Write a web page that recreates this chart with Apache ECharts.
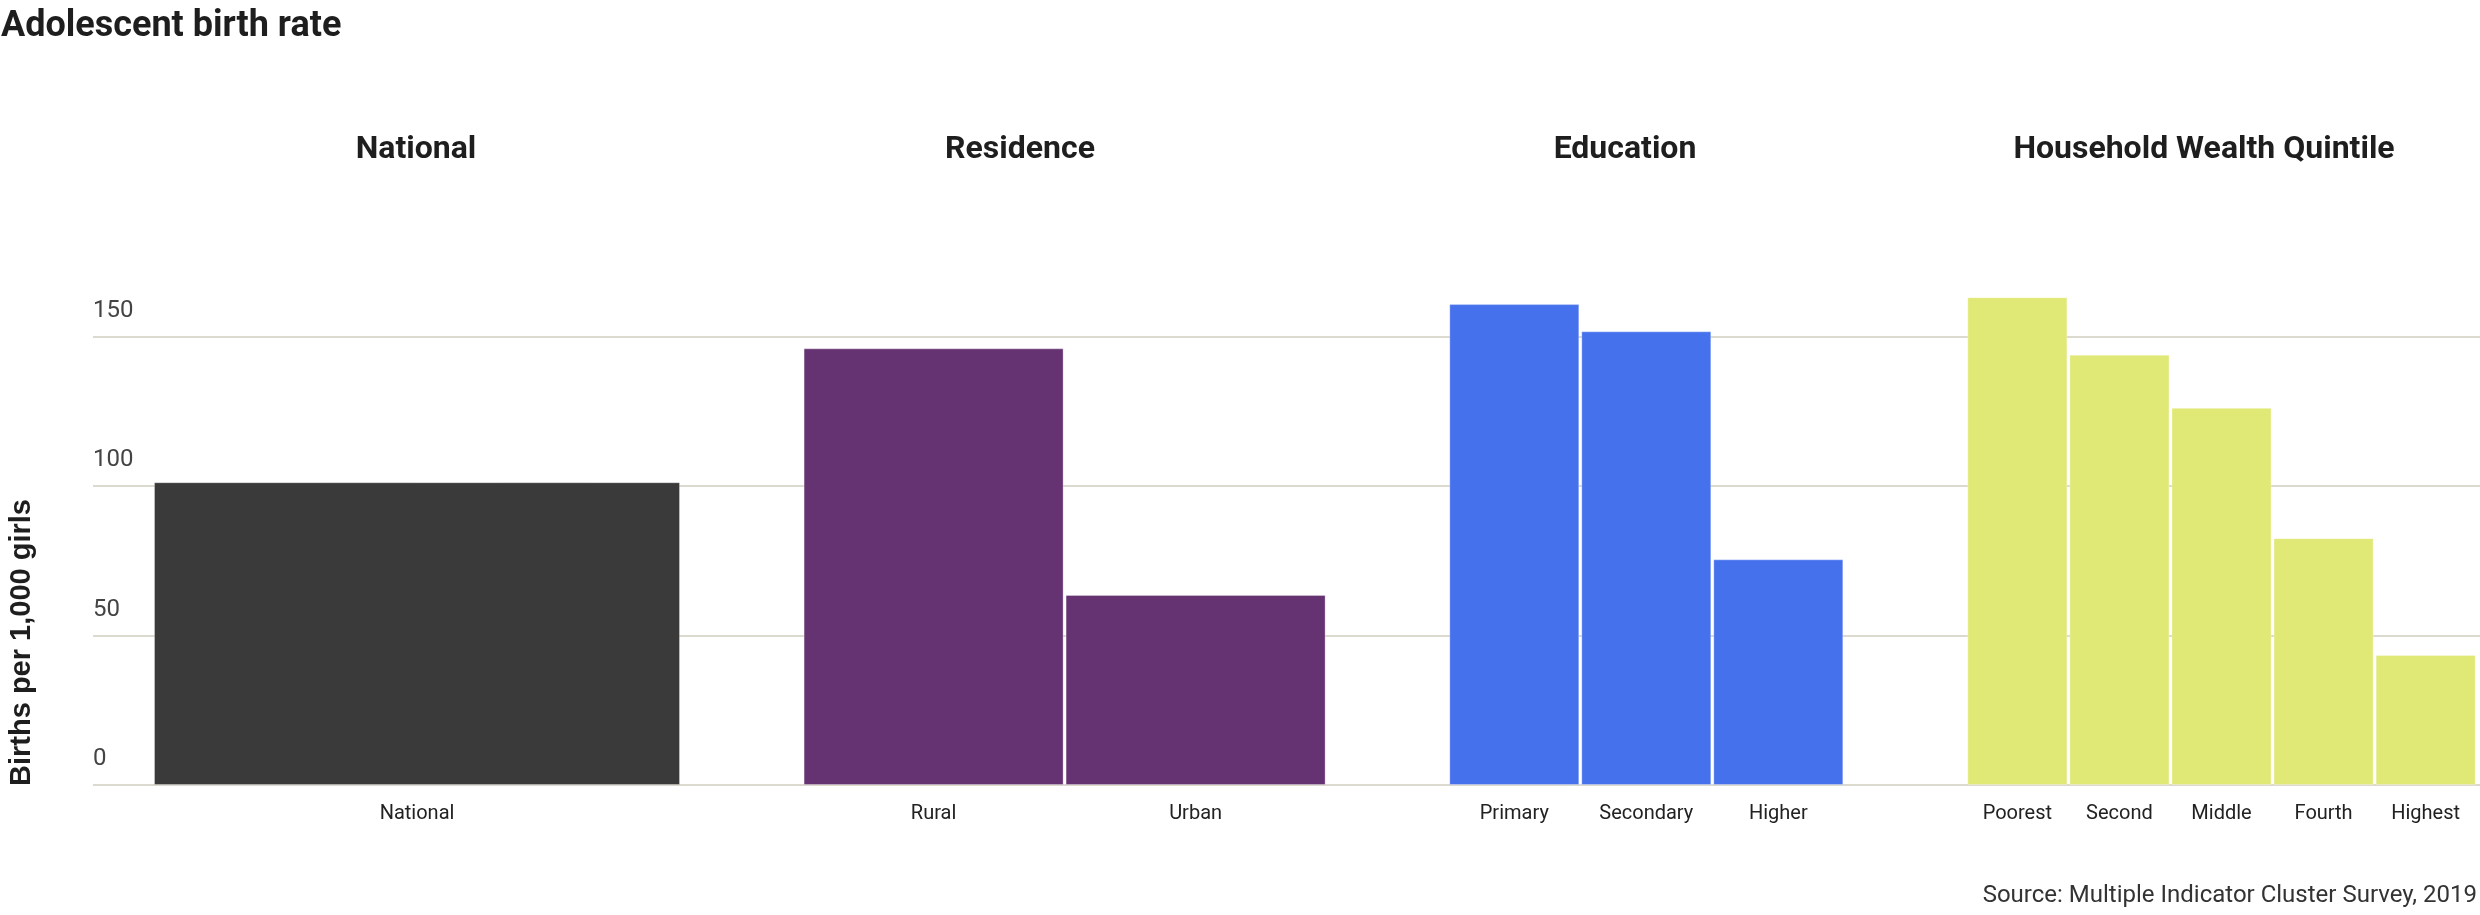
<!DOCTYPE html>
<html>
<head>
<meta charset="utf-8">
<script src="https://cdn.jsdelivr.net/npm/echarts@6/dist/echarts.min.js"></script>
<style>
html,body{margin:0;padding:0;background:#fff;}
#chart{width:2480px;height:915px;}
</style>
</head>
<body>
<div id="chart"></div>
<script>
// ---- data ----
const chartTitle = 'Adolescent birth rate';
const yAxisTitle = 'Births per 1,000 girls';
const sourceText = 'Source: Multiple Indicator Cluster Survey, 2019';
const groupTitles = ['National', 'Residence', 'Education', 'Household Wealth Quintile'];
const nationalCats = ['National'];
const nationalVals = [101.3];
const residenceCats = ['Rural', 'Urban'];
const residenceVals = [146.1, 63.6];
const educationCats = ['Primary', 'Secondary', 'Higher'];
const educationVals = [160.9, 151.8, 75.5];
const wealthCats = ['Poorest', 'Second', 'Middle', 'Fourth', 'Highest'];
const wealthVals = [163.2, 144.0, 126.2, 82.6, 43.5];
const yMin = 0, yMax = 150, yStep = 50;

// ---- layout / style ----
const groups = [
  {cats: nationalCats, vals: nationalVals, color: '#3a3a3a', left: 153, width: 528, titleX: 416},
  {cats: residenceCats, vals: residenceVals, color: '#653371', left: 802.6, width: 524, titleX: 1020},
  {cats: educationCats, vals: educationVals, color: '#4671ed', left: 1448.3, width: 396, titleX: 1625},
  {cats: wealthCats, vals: wealthVals, color: '#e0e976', left: 1966.3, width: 510.4, titleX: 2204}
];
const plotTop = 336.7, plotBottom = 130;
const font = 'Roboto';

const grid = [{left: 93, right: 0, top: plotTop, bottom: plotBottom}];
const xAxis = [{type: 'value', gridIndex: 0, show: false}];
const yAxis = [{
  type: 'value', gridIndex: 0, min: yMin, max: yMax, interval: yStep,
  axisLine: {show: false}, axisTick: {show: false},
  axisLabel: {inside: true, margin: 0, align: 'left', verticalAlign: 'bottom',
    lineHeight: 52, fontFamily: font, fontSize: 24, color: '#444'},
  splitLine: {show: true, lineStyle: {color: '#dcd9cf', width: 2}}
}];
const series = [];
groups.forEach((g, i) => {
  const gi = i + 1;
  grid.push({left: g.left, width: g.width, top: plotTop, bottom: plotBottom});
  xAxis.push({type: 'category', gridIndex: gi, data: g.cats,
    axisLine: {show: false}, axisTick: {show: false},
    axisLabel: {margin: 19, fontFamily: font, fontSize: 20, color: '#222', interval: 0}});
  yAxis.push({type: 'value', gridIndex: gi, min: yMin, max: yMax, interval: yStep, show: false,
    splitLine: {show: false}});
  series.push({type: 'bar', xAxisIndex: gi, yAxisIndex: gi, data: g.vals, clip: false,
    barCategoryGap: 2, itemStyle: {color: g.color, borderColor: 'rgba(255,255,255,0.3)', borderWidth: 1},
    silent: true, animation: false});
});

const graphic = [
  {type: 'text', x: 1, y: 27, style: {text: chartTitle, fontFamily: font, fontWeight: 'bold', fontSize: 36,
    fill: '#1e1e1e', align: 'left', verticalAlign: 'middle'}},
  {type: 'text', x: 2477, y: 896, style: {text: sourceText, fontFamily: font, fontSize: 24,
    fill: '#333', align: 'right', verticalAlign: 'middle'}},
  {type: 'text', x: 22, y: 642.5, rotation: Math.PI / 2, style: {text: yAxisTitle,
    fontFamily: '"Liberation Sans", Arial, sans-serif', fontWeight: 'bold', fontSize: 29,
    fill: '#1e1e1e', align: 'center', verticalAlign: 'middle'}}
];
groups.forEach((g, i) => {
  graphic.push({type: 'text', x: g.titleX, y: 149.5, style: {text: groupTitles[i], fontFamily: font,
    fontWeight: 'bold', fontSize: 32, fill: '#1e1e1e', align: 'center', verticalAlign: 'middle'}});
});

const chart = echarts.init(document.getElementById('chart'), null, {renderer: 'canvas'});
chart.setOption({animation: false, backgroundColor: '#ffffff', grid, xAxis, yAxis, series, graphic});
</script>
</body>
</html>
